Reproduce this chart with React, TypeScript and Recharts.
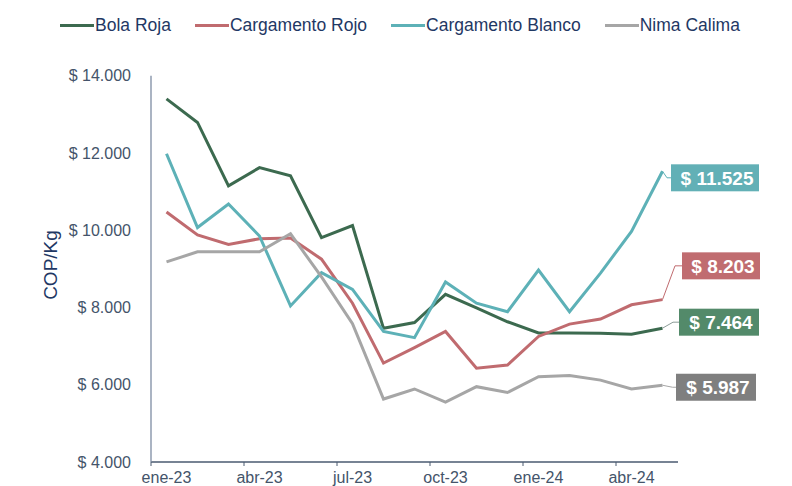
import React from 'react';
import { LineChart, Line, XAxis, YAxis } from 'recharts';

const months = ['ene-23','feb-23','mar-23','abr-23','may-23','jun-23','jul-23','ago-23','sep-23','oct-23','nov-23','dic-23','ene-24','feb-24','mar-24','abr-24','may-24'];
const bolaRoja = [13400, 12790, 11150, 11620, 11410, 9810, 10120, 7460, 7610, 8340, 7990, 7630, 7340, 7340, 7330, 7310, 7464];
const cargamentoRojo = [10470, 9880, 9630, 9780, 9800, 9250, 8110, 6560, 6960, 7380, 6430, 6510, 7250, 7570, 7700, 8070, 8203];
const cargamentoBlanco = [11980, 10070, 10680, 9850, 8040, 8900, 8470, 7380, 7220, 8660, 8110, 7890, 8970, 7890, 8890, 9970, 11525];
const nimaCalima = [9180, 9440, 9440, 9440, 9910, 8790, 7580, 5630, 5890, 5550, 5950, 5800, 6210, 6240, 6120, 5890, 5987];
const yTicks = [4000, 6000, 8000, 10000, 12000, 14000];
const xTickIdx = [0, 3, 6, 9, 12, 15];

const series = [
  { key: 'bolaRoja', name: 'Bola Roja', values: bolaRoja, color: '#3c6a4f', box: '#538a6a', leader: '#8c9c98', boxLeft: 16.5, boxW: 80, dy: -6, kink: 10.5 },
  { key: 'cargamentoRojo', name: 'Cargamento Rojo', values: cargamentoRojo, color: '#c06b6f', box: '#c06c70', leader: '#c06b6f', boxLeft: 19.5, boxW: 78, dy: -33.8, kink: 12.5 },
  { key: 'cargamentoBlanco', name: 'Cargamento Blanco', values: cargamentoBlanco, color: '#5db1b7', box: '#62b0b6', leader: '#5db1b7', boxLeft: 8.5, boxW: 88, dy: 6.5, kink: 4.5 },
  { key: 'nimaCalima', name: 'Nima Calima', values: nimaCalima, color: '#a6a6a6', box: '#7f7f7f', leader: '#a6a6a6', boxLeft: 13.5, boxW: 80, dy: 2, kink: 10 },
];

const data = months.map((m, i) => {
  const row: any = { idx: i, month: m };
  series.forEach((s) => { row[s.key] = s.values[i]; });
  return row;
});

const fmt = (v: number) => '$ ' + String(Math.round(v)).replace(/\B(?=(\d{3})+(?!\d))/g, '.');

const FONT = 'Arial, "Liberation Sans", sans-serif';
const BAND = 31;

const XTick = (props: any) => {
  const { x, y, payload } = props;
  const tx = x - BAND / 2;
  return (
    <g>
      <line x1={tx} y1={y} x2={tx} y2={y + 4} stroke="#4a5a70" strokeWidth={1} />
      <text x={x} y={y + 21} textAnchor="middle" fill="#44546a" fontSize={16} fontFamily={FONT}>
        {months[payload.value]}
      </text>
    </g>
  );
};

const makeEndLabel = (s: any) => (props: any) => {
  const { x, y, index } = props;
  if (index !== months.length - 1) return null;
  const cy = y + s.dy;
  const bx = x + s.boxLeft;
  const h = 27;
  return (
    <g>
      <polyline points={`${x},${y} ${x + s.kink},${cy} ${bx},${cy}`} fill="none" stroke={s.leader} strokeWidth={1} />
      <rect x={bx} y={cy - h / 2} width={s.boxW} height={h} fill={s.box} />
      <text x={bx + s.boxW / 2 + 2} y={cy} dy="0.36em" textAnchor="middle" fill="#ffffff" fontSize={19} fontWeight="bold" fontFamily={FONT}>
        {fmt(s.values[s.values.length - 1])}
      </text>
    </g>
  );
};

export default function App() {
  return (
    <div style={{ position: 'absolute', left: 0, top: 0, width: 792, height: 486, background: '#fff' }}>
      <div style={{ position: 'absolute', left: 60, top: 14, display: 'flex', alignItems: 'center', fontFamily: FONT, fontSize: 17.5, lineHeight: '22px', color: '#1f3864', whiteSpace: 'nowrap' }}>
        {series.map((s, i) => (
          <div key={s.key} style={{ display: 'flex', alignItems: 'center', marginLeft: i === 0 ? 0 : 24 }}>
            <div style={{ width: 34, height: 3, background: s.color, marginRight: 1 }} />
            <span>{s.name}</span>
          </div>
        ))}
      </div>
      <LineChart width={792} height={486} data={data} margin={{ top: 75.7, right: 114, left: 0, bottom: 0 }}>
        <XAxis
          dataKey="idx"
          type="number"
          domain={[-0.5, 16.5]}
          ticks={xTickIdx}
          tick={<XTick />}
          tickLine={false}
          tickSize={0}
          tickMargin={0}
          height={24}
          interval={0}
          axisLine={{ stroke: '#4a5a70', strokeWidth: 1.3 }}
        />
        <YAxis
          type="number"
          domain={[4000, 14000]}
          ticks={yTicks}
          tickFormatter={fmt}
          width={151}
          tickLine={false}
          tickSize={0}
          tickMargin={20}
          interval={0}
          axisLine={{ stroke: '#7d8ca3', strokeWidth: 1.3 }}
          tick={{ fill: '#44546a', fontSize: 16, fontFamily: FONT }}
          label={{
            content: () => (
              <text x={50.5} y={265} transform="rotate(-90 50.5 265)" textAnchor="middle" dominantBaseline="central" fill="#1f3864" fontSize={19} fontFamily={FONT}>
                COP/Kg
              </text>
            ),
          }}
        />
        {series.map((s) => (
          <Line
            key={s.key}
            dataKey={s.key}
            name={s.name}
            type="linear"
            stroke={s.color}
            strokeWidth={3}
            dot={false}
            activeDot={false}
            isAnimationActive={false}
            label={makeEndLabel(s)}
          />
        ))}
      </LineChart>
    </div>
  );
}
